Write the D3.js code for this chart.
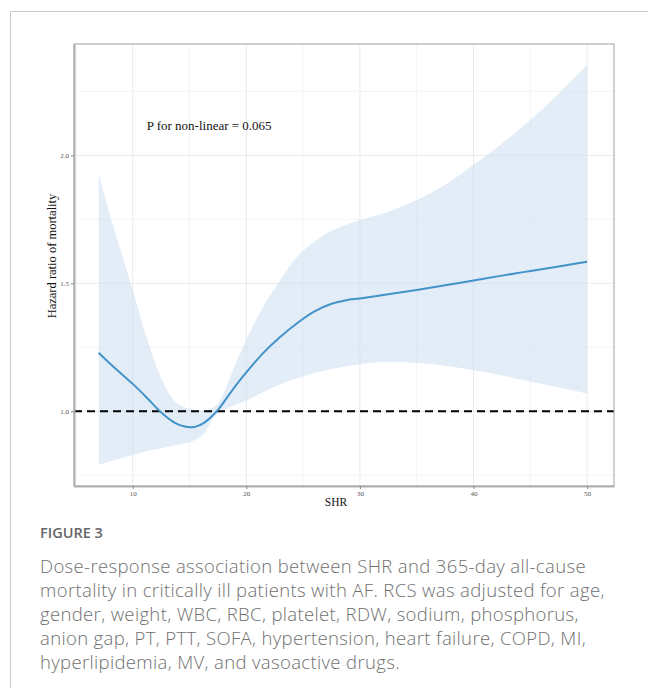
<!DOCTYPE html>
<html>
<head>
    <meta charset="utf-8">
    <title>Figure 3 - SHR dose-response</title>
    <script type="text/javascript" src="https://d3js.org/d3.v7.min.js"></script>
    <style>
        body {
            margin: 0;
            background: #ffffff;
        }
        .tick text {
            font-family: "Liberation Serif", "Times New Roman", serif;
        }
    </style>
</head>
<body>
<div id="chart"></div>
<script type="text/javascript">

    // values
    var shr   = [7, 8.3, 10, 11.2, 12.4, 13.8, 15.2, 16.2, 17.4, 18.5, 19.2, 20, 21.5, 23, 24.5, 26, 27.5, 28.8, 30, 32.5, 35, 37.5, 40, 42.5, 45, 47.5, 50];
    var hr    = [1.229, 1.174, 1.107, 1.055, 1.0, 0.953, 0.938, 0.953, 1.0, 1.066, 1.108, 1.152, 1.228, 1.291, 1.345, 1.39, 1.42, 1.434, 1.441, 1.457, 1.474, 1.492, 1.511, 1.53, 1.548, 1.566, 1.584];
    var lower = [0.791, 0.808, 0.829, 0.845, 0.855, 0.868, 0.882, 0.91, 0.99, 1.015, 1.028, 1.042, 1.075, 1.106, 1.13, 1.15, 1.165, 1.176, 1.184, 1.193, 1.19, 1.178, 1.161, 1.14, 1.116, 1.093, 1.07];
    var upper = [1.927, 1.721, 1.474, 1.291, 1.14, 1.035, 1.006, 1.004, 1.025, 1.125, 1.2, 1.278, 1.409, 1.513, 1.605, 1.662, 1.705, 1.728, 1.747, 1.78, 1.825, 1.885, 1.962, 2.045, 2.138, 2.24, 2.353];

    var xTicks = [10, 20, 30, 40, 50];
    var xMinor = [5, 15, 25, 35, 45];
    var yTicks = [1.0, 1.5, 2.0];
    var yMinor = [0.75, 1.25, 1.75, 2.25];

    var pLabel = "P for non-linear = 0.065";
    var captionTitle = "FIGURE 3";
    var captionLines = [
        "Dose-response association between SHR and 365-day all-cause",
        "mortality in critically ill patients with AF. RCS was adjusted for age,",
        "gender, weight, WBC, RBC, platelet, RDW, sodium, phosphorus,",
        "anion gap, PT, PTT, SOFA, hypertension, heart failure, COPD, MI,",
        "hyperlipidemia, MV, and vasoactive drugs."
    ];

    var data = shr.map(function(d, i) {
        return {x: d, y: hr[i], lo: lower[i], hi: upper[i]};
    });

    var w = 648, h = 688;
    var panel = {left: 74, right: 614, top: 44, bottom: 486};

    var svg = d3.select("#chart").append("svg")
        .attr("width", w)
        .attr("height", h)
        .style("display", "block");

    svg.append("rect")
        .attr("width", w)
        .attr("height", h)
        .attr("fill", "#ffffff");

    // outer frame of the figure (top and left edge only)
    svg.append("path")
        .attr("d", "M10.5," + h + "V11.5H" + w)
        .attr("fill", "none")
        .attr("stroke", "#cccccc")
        .attr("stroke-width", 1);

    var x = d3.scaleLinear()
        .domain([4.83, 52.37])
        .range([panel.left, panel.right]);

    var y = d3.scaleLinear()
        .domain([0.708, 2.435])
        .range([panel.bottom, panel.top]);

    // grid
    var grid = svg.append("g");
    function vLines(vals, col) {
        grid.selectAll(null)
            .data(vals).enter()
            .append("line")
            .attr("x1", function(d) { return x(d); })
            .attr("x2", function(d) { return x(d); })
            .attr("y1", panel.top)
            .attr("y2", panel.bottom)
            .attr("stroke", col)
            .attr("stroke-width", 1);
    }
    function hLines(vals, col) {
        grid.selectAll(null)
            .data(vals).enter()
            .append("line")
            .attr("y1", function(d) { return y(d); })
            .attr("y2", function(d) { return y(d); })
            .attr("x1", panel.left)
            .attr("x2", panel.right)
            .attr("stroke", col)
            .attr("stroke-width", 1);
    }
    vLines(xMinor, "#f4f4f4");
    hLines(yMinor, "#f4f4f4");
    vLines(xTicks, "#ebebeb");
    hLines(yTicks, "#ebebeb");

    var curve = d3.curveCatmullRom.alpha(0.5);

    // confidence band
    var area = d3.area()
        .curve(curve)
        .x(function(d) { return x(d.x); })
        .y0(function(d) { return y(d.lo); })
        .y1(function(d) { return y(d.hi); });

    svg.append("path")
        .datum(data)
        .attr("d", area)
        .attr("fill", "#c6dbef")
        .attr("fill-opacity", 0.5);

    // reference line at HR = 1
    svg.append("line")
        .attr("x1", panel.left)
        .attr("x2", panel.right)
        .attr("y1", y(1))
        .attr("y2", y(1))
        .attr("stroke", "#000000")
        .attr("stroke-width", 2)
        .attr("stroke-dasharray", "8,5");

    // spline estimate
    var line = d3.line()
        .curve(curve)
        .x(function(d) { return x(d.x); })
        .y(function(d) { return y(d.y); });

    svg.append("path")
        .datum(data)
        .attr("d", line)
        .attr("fill", "none")
        .attr("stroke", "#4393c8")
        .attr("stroke-width", 2);

    // panel border
    svg.append("rect")
        .attr("x", panel.left)
        .attr("y", panel.top)
        .attr("width", panel.right - panel.left)
        .attr("height", panel.bottom - panel.top)
        .attr("fill", "none")
        .attr("stroke", "#a0a0a0")
        .attr("stroke-width", 1);

    // axes
    var xAxis = svg.append("g")
        .attr("transform", "translate(0," + panel.bottom + ")")
        .call(d3.axisBottom(x).tickValues(xTicks).tickSize(3).tickSizeOuter(0).tickPadding(2).tickFormat(d3.format("d")));
    xAxis.select(".domain").attr("stroke", "#b0b0b0").attr("stroke-width", 2);
    xAxis.selectAll(".tick line").attr("stroke", "#888888");
    xAxis.selectAll(".tick text").attr("fill", "#555555").style("font-size", "7px");

    var yAxis = svg.append("g")
        .attr("transform", "translate(" + panel.left + ",0)")
        .call(d3.axisLeft(y).tickValues(yTicks).tickSize(3).tickSizeOuter(0).tickPadding(2).tickFormat(d3.format(".1f")));
    yAxis.select(".domain").attr("stroke", "#b0b0b0").attr("stroke-width", 2);
    yAxis.selectAll(".tick line").attr("stroke", "#888888");
    yAxis.selectAll(".tick text").attr("fill", "#555555").style("font-size", "7px");

    // axis titles
    svg.append("text")
        .attr("x", 336)
        .attr("y", 506)
        .attr("text-anchor", "middle")
        .style("font-family", "'Liberation Serif', 'Times New Roman', serif")
        .style("font-size", "11.5px")
        .attr("fill", "#111111")
        .text("SHR");

    svg.append("text")
        .attr("transform", "translate(56,256) rotate(-90)")
        .attr("text-anchor", "middle")
        .style("font-family", "'Liberation Serif', 'Times New Roman', serif")
        .style("font-size", "12.5px")
        .attr("fill", "#111111")
        .text("Hazard ratio of mortality");

    // annotation
    svg.append("text")
        .attr("x", x(11.23))
        .attr("y", y(2.1))
        .style("font-family", "'Liberation Serif', 'Times New Roman', serif")
        .style("font-size", "13px")
        .attr("fill", "#111111")
        .text(pLabel);

    // caption
    svg.append("text")
        .attr("x", 40)
        .attr("y", 538)
        .style("font-family", "'Open Sans', sans-serif")
        .style("font-size", "14.5px")
        .style("font-weight", 600)
        .attr("fill", "#666666")
        .text(captionTitle);

    svg.selectAll("text.caption")
        .data(captionLines).enter()
        .append("text")
        .attr("class", "caption")
        .attr("x", 40)
        .attr("y", function(d, i) { return 572.5 + i * 24; })
        .style("font-family", "'Open Sans', sans-serif")
        .style("font-size", "18.5px")
        .style("letter-spacing", "0.35px")
        .style("font-weight", 300)
        .attr("fill", "#707070")
        .text(function(d) { return d; });

</script>
</body>
</html>
